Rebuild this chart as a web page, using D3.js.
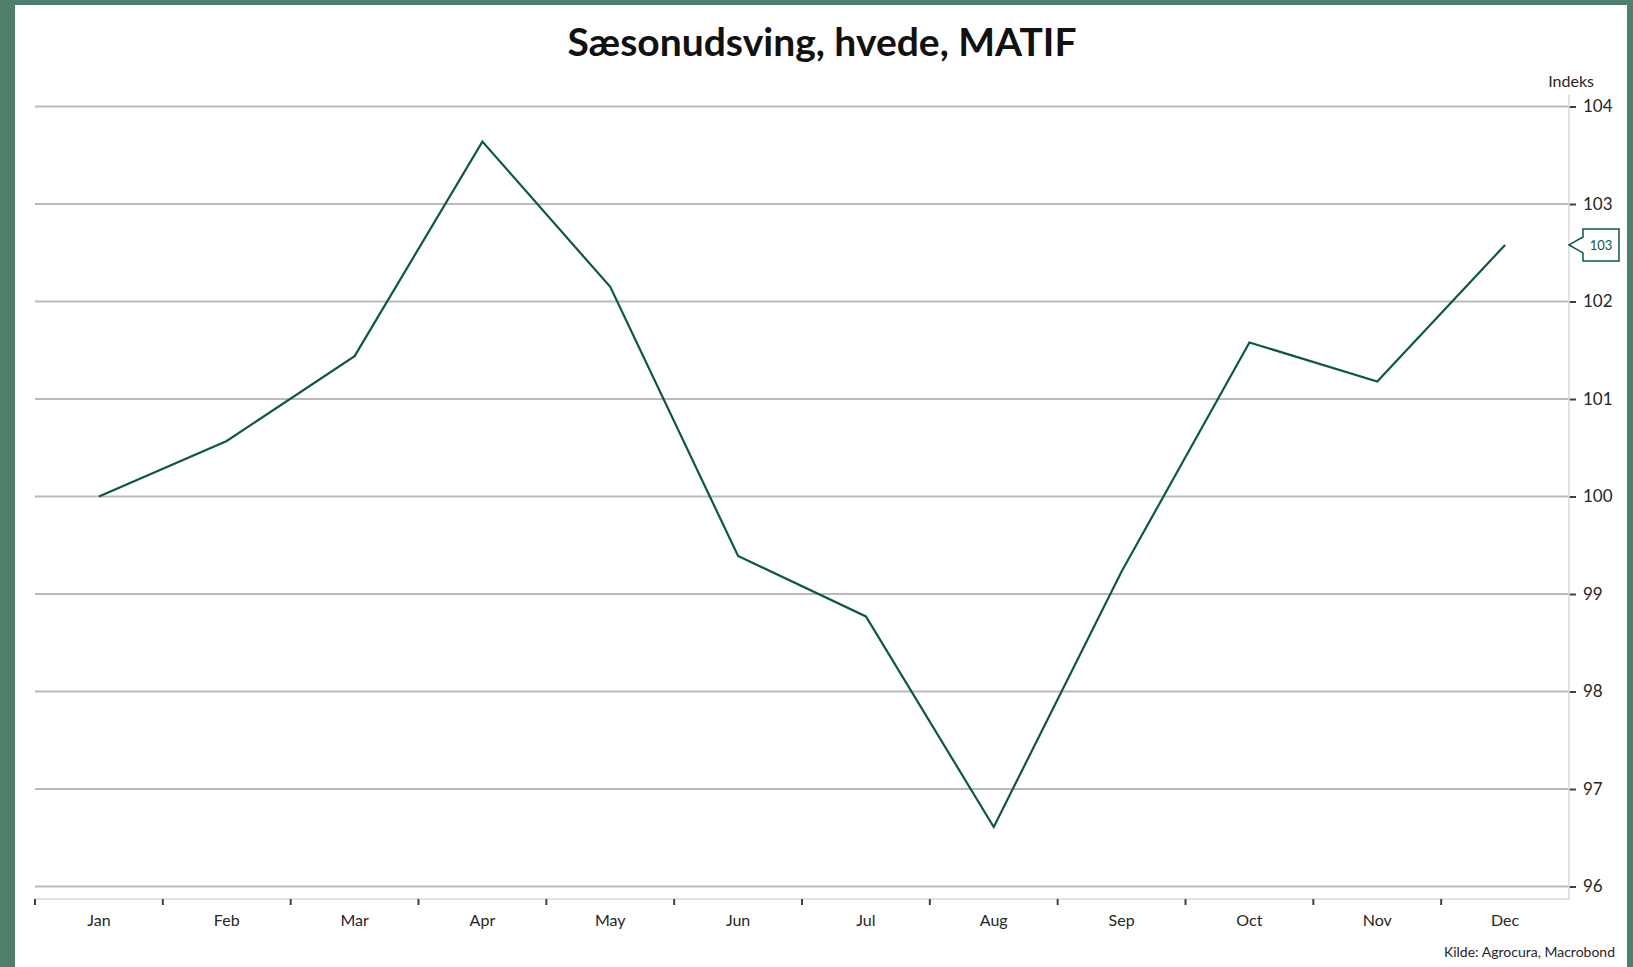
<!DOCTYPE html>
<html>
<head>
<meta charset="utf-8">
<script src="https://cdn.jsdelivr.net/npm/d3@7"></script>
<style>
	body { margin: 0; background: #4f806b; }
	svg { display: block; font-family: Lato, "Open Sans", sans-serif; }
	.grid line { stroke: #b9b9b9; stroke-width: 2; }
	.axis path { stroke: #d9d9d9; }
	.axis text { fill: #262626; }
	.y-axis line { stroke: #404040; stroke-width: 2; }
	.x-axis line { stroke: #404040; stroke-width: 2; }
	.season-line { fill: none; stroke: #0b5a3d; stroke-width: 2.2; }
</style>
</head>
<body>
<script>
var months = ["Jan", "Feb", "Mar", "Apr", "May", "Jun", "Jul", "Aug", "Sep", "Oct", "Nov", "Dec"];
var indexValues = [100.0, 100.57, 101.44, 103.64, 102.15, 99.39, 98.77, 96.61, 99.23, 101.58, 101.18, 102.58];
var yTicks = [96, 97, 98, 99, 100, 101, 102, 103, 104];

var width = 1633, height = 967;
var sizes = { left: 35, right: 1569, top: 106.5, bottom: 886.5, axisY: 899 };

var svg = d3.select("body").append("svg")
	.attr("width", width)
	.attr("height", height);

// white panel inside the green frame
svg.append("rect")
	.attr("x", 15).attr("y", 5)
	.attr("width", 1612).attr("height", height - 5)
	.attr("fill", "#fff");

var xScale = d3.scaleBand()
	.domain(months)
	.range([sizes.left, sizes.right]);

var yScale = d3.scaleLinear()
	.domain([96, 104])
	.range([sizes.bottom, sizes.top]);

// horizontal rules
svg.append("g")
	.attr("class", "grid")
	.selectAll("line")
	.data(yTicks).enter()
	.append("line")
	.attr("x1", sizes.left)
	.attr("x2", sizes.right)
	.attr("y1", function(d){ return yScale(d); })
	.attr("y2", function(d){ return yScale(d); });

// right hand axis
var yAxis = d3.axisRight(yScale)
	.tickValues(yTicks)
	.tickSize(7)
	.tickPadding(7)
	.tickFormat(d3.format("d"));
var yAxisG = svg.append("g")
	.attr("class", "axis y-axis")
	.attr("transform", "translate(" + sizes.right + ",0)")
	.call(yAxis)
	.attr("font-family", null)
	.attr("font-size", 17);
yAxisG.select(".domain").remove();
svg.append("line")
	.attr("x1", sizes.right).attr("x2", sizes.right)
	.attr("y1", 95).attr("y2", sizes.axisY)
	.attr("stroke", "#d9d9d9").attr("stroke-width", 1.5);

// bottom axis, ticks between months
svg.append("line")
	.attr("x1", sizes.left).attr("x2", sizes.right)
	.attr("y1", sizes.axisY).attr("y2", sizes.axisY)
	.attr("stroke", "#d9d9d9").attr("stroke-width", 1.5);
var xAxisG = svg.append("g").attr("class", "x-axis");
xAxisG.selectAll("line")
	.data(months).enter()
	.append("line")
	.attr("x1", function(d){ return xScale(d); })
	.attr("x2", function(d){ return xScale(d); })
	.attr("y1", sizes.axisY)
	.attr("y2", sizes.axisY + 6);
xAxisG.selectAll("text")
	.data(months).enter()
	.append("text")
	.attr("x", function(d){ return xScale(d) + xScale.bandwidth() / 2; })
	.attr("y", 926)
	.attr("text-anchor", "middle")
	.attr("font-size", 16)
	.attr("fill", "#262626")
	.text(function(d){ return d; });

// the line
var line = d3.line()
	.x(function(d, i){ return xScale(months[i]) + xScale.bandwidth() / 2; })
	.y(function(d){ return yScale(d); });
svg.append("path")
	.datum(indexValues)
	.attr("class", "season-line")
	.attr("d", line);

// last value callout
var last = indexValues[indexValues.length - 1];
var cy = yScale(last);
var cx = sizes.right;
var callout = svg.append("g").attr("transform", "translate(" + cx + "," + cy + ")");
callout.append("path")
	.attr("d", "M0,0 L14,-8 L14,-16 L50,-16 L50,16 L14,16 L14,8 Z")
	.attr("fill", "#fff")
	.attr("stroke", "#0b5a3d")
	.attr("stroke-width", 1.5);
callout.append("text")
	.attr("x", 32).attr("y", 5)
	.attr("text-anchor", "middle")
	.attr("font-size", 13)
	.attr("fill", "#0b5a3d")
	.text(d3.format(".0f")(last));

// titles
svg.append("text")
	.attr("x", 822).attr("y", 56)
	.attr("text-anchor", "middle")
	.attr("font-size", 39)
	.attr("font-weight", "bold")
	.attr("fill", "#111")
	.text("Sæsonudsving, hvede, MATIF");
svg.append("text")
	.attr("x", 1594).attr("y", 87)
	.attr("text-anchor", "end")
	.attr("font-size", 16)
	.attr("fill", "#262626")
	.text("Indeks");
svg.append("text")
	.attr("x", 1615).attr("y", 957)
	.attr("text-anchor", "end")
	.attr("font-size", 14)
	.attr("fill", "#262626")
	.text("Kilde: Agrocura, Macrobond");
</script>
</body>
</html>
